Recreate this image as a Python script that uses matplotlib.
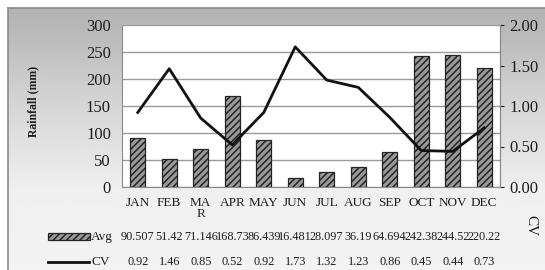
import numpy as np
import matplotlib
matplotlib.use("Agg")
import matplotlib.pyplot as plt
import matplotlib.transforms as mtransforms
from matplotlib.patches import Rectangle
from matplotlib.lines import Line2D

months = ["JAN", "FEB", "MA\nR", "APR", "MAY", "JUN", "JUL", "AUG", "SEP", "OCT", "NOV", "DEC"]
avg = [90.507, 51.42, 71.146, 168.73, 86.439, 16.481, 28.097, 36.19, 64.694, 242.38, 244.52, 220.22]
avg_labels = ["90.507", "51.42", "71.146", "168.73", "86.439", "16.481", "28.097", "36.19", "64.694", "242.38", "244.52", "220.22"]
cv = [0.92, 1.46, 0.85, 0.52, 0.92, 1.73, 1.32, 1.23, 0.86, 0.45, 0.44, 0.73]
left_ticks = [0, 50, 100, 150, 200, 250, 300]
right_ticks = [0.0, 0.5, 1.0, 1.5, 2.0]

plt.rcParams['font.family'] = ['Liberation Serif', 'DejaVu Serif']
plt.rcParams['hatch.linewidth'] = 1.1

W, H = 545, 270
fig = plt.figure(figsize=(W / 100, H / 100), dpi=100)
fig.patch.set_facecolor('white')

# background gradient panel
bg = fig.add_axes([0, 0, 1, 1], zorder=-10)
bg.set_axis_off()
ys = np.linspace(0, 1, 270)
vals = np.interp(ys, [0, 0.1, 0.35, 0.7, 1.0], [0.70, 0.73, 0.83, 0.94, 0.95])
grad = np.tile(vals[:, None], (1, 10))
bg.imshow(grad, cmap='gray', vmin=0, vmax=1, aspect='auto', extent=[8 / W, 1, 0, 1 - 8 / H], origin='upper')
bg.set_xlim(0, 1)
bg.set_ylim(0, 1)
bg.plot([8 / W, 8 / W], [0, 1 - 8 / H], color='#8a8a8a', lw=1.2)
bg.plot([8 / W, 1], [1 - 8 / H, 1 - 8 / H], color='#8a8a8a', lw=1.2)

def fx(px):
    return px / W

def fy(py):
    return 1 - py / H

TXT = '#1e1e1e'

ax = fig.add_axes([fx(122), fy(187), fx(500) - fx(122), fy(25) - fy(187)])
ax.set_facecolor('white')
x = np.arange(len(months))
ax.bar(x, avg, width=0.47, facecolor='#9a9a9a', edgecolor='#242424', hatch='/////', lw=0.9, zorder=3)
ax.set_xlim(-0.5, len(months) - 0.5)
ax.set_ylim(0, 300)
ax.set_yticks(left_ticks)
ax.set_yticklabels([str(t) for t in left_ticks], fontsize=12)
ax.tick_params(axis='y', length=0, pad=8, colors=TXT)
ax.set_xticks(x)
ax.set_xticklabels(months, fontsize=9.5, linespacing=0.95)
ax.tick_params(axis='x', length=0, pad=7, colors=TXT)
ax.grid(axis='y', color='#9a9a9a', lw=1.0, zorder=0)
ax.spines['top'].set_visible(False)
for s in ['left', 'bottom', 'right']:
    ax.spines[s].set_color('#8a8a8a')

fig.text(fx(33), fy(101), 'Rainfall (mm)', rotation=90, fontsize=8.5, fontweight='bold',
         ha='center', va='center', color=TXT)

ax2 = ax.twinx()
ax2.plot(x, cv, color='#111111', lw=2.0, zorder=4)
ax2.set_ylim(0, 2.0)
ax2.set_yticks(right_ticks)
ax2.set_yticklabels([f"{t:.2f}" for t in right_ticks], fontsize=12)
ax2.tick_params(axis='y', length=3, width=0.8, pad=4, colors=TXT)
ax2.spines['top'].set_visible(False)
ax2.spines['right'].set_color('#8a8a8a')
ax2.spines['left'].set_visible(False)
ax2.spines['bottom'].set_visible(False)

fig.text(fx(531), fy(226), 'CV', rotation=-90, fontsize=11, ha='center', va='center', color=TXT)

# data table
trans = mtransforms.blended_transform_factory(ax.transData, fig.transFigure)
for i in x:
    ax.text(i, fy(237), avg_labels[i], transform=trans, ha='center', va='center', fontsize=8.8, color=TXT, clip_on=False)
    ax.text(i, fy(262), f"{cv[i]:.2f}", transform=trans, ha='center', va='center', fontsize=8.8, color=TXT, clip_on=False)

fig.add_artist(Rectangle((fx(48), fy(240)), fx(90) - fx(48), fy(233) - fy(240), transform=fig.transFigure,
                         facecolor='#9a9a9a', edgecolor='#242424', hatch='/////', lw=0.9))
fig.text(fx(91), fy(237), 'Avg', fontsize=9.5, ha='left', va='center', color=TXT)
fig.add_artist(Line2D([fx(48), fx(89)], [fy(262), fy(262)], transform=fig.transFigure, color='#111111', lw=2.0))
fig.text(fx(91), fy(262), 'CV', fontsize=9.5, ha='left', va='center', color=TXT)

fig.savefig('out.png', dpi=100)
